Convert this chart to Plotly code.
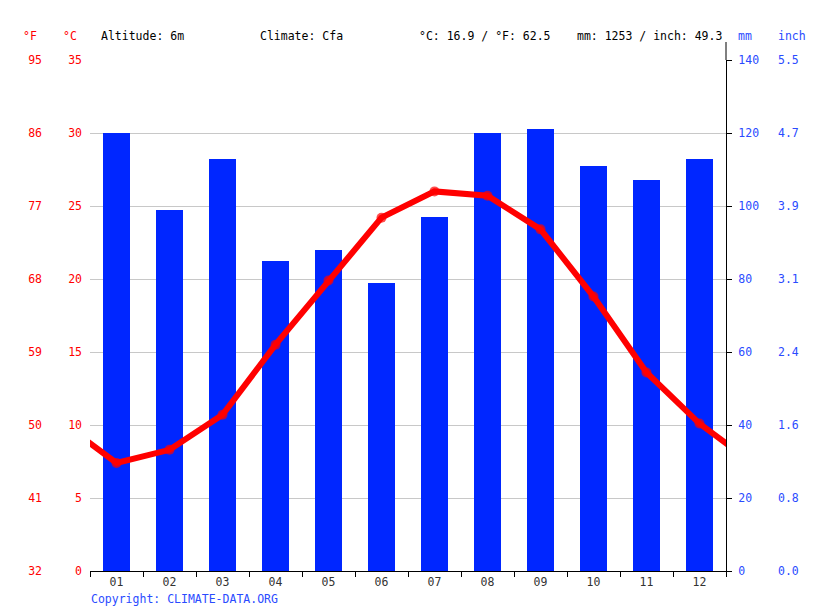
import plotly.graph_objects as go

months = ["01", "02", "03", "04", "05", "06", "07", "08", "09", "10", "11", "12"]
precip_mm = [120, 99, 113, 85, 88, 79, 97, 120, 121, 111, 107, 113]
temp_c = [7.4, 8.3, 10.7, 15.5, 19.9, 24.2, 26.0, 25.7, 23.4, 18.8, 13.6, 10.1]

c_ticks = [0, 5, 10, 15, 20, 25, 30, 35]
f_labels = ["32", "41", "50", "59", "68", "77", "86", "95"]
mm_ticks = [0, 20, 40, 60, 80, 100, 120, 140]
inch_labels = ["0.0", "0.8", "1.6", "2.4", "3.1", "3.9", "4.7", "5.5"]

W, H = 815, 611
L, R, T, B = 90, 726, 60, 571

RED = "#ff0000"
BLUE = "#0026ff"
TXTBLUE = "#2a4bff"
FONT = "DejaVu Sans Mono"
FS = 11.5

def px(x):
    return x / W

def py(y):
    return (B - y) / (B - T)

# wrap the temperature series so the line runs to the plot edges
line_x = list(range(0, 14))
line_y = [temp_c[-1]] + temp_c + [temp_c[0]]
marker_sizes = [0] + [10] * 12 + [0]

fig = go.Figure()
fig.add_trace(go.Bar(
    x=months, y=precip_mm, xaxis="x", yaxis="y",
    marker=dict(color=BLUE, line=dict(width=0)), width=0.51,
    hoverinfo="skip", showlegend=False,
))
fig.add_trace(go.Scatter(
    x=line_x, y=line_y, xaxis="x2", yaxis="y2",
    mode="lines+markers",
    line=dict(color=RED, width=6),
    marker=dict(color=RED, size=marker_sizes, line=dict(width=0)),
    cliponaxis=True, showlegend=False, hoverinfo="skip",
))
# dummy traces so the °F and inch axes are drawn
fig.add_trace(go.Scatter(x=[None], y=[None], xaxis="x", yaxis="y3", showlegend=False))
fig.add_trace(go.Scatter(x=[None], y=[None], xaxis="x", yaxis="y4", showlegend=False))

fig.update_layout(
    width=W, height=H,
    margin=dict(l=0, r=0, t=T, b=H - B, pad=0),
    plot_bgcolor="white", paper_bgcolor="white",
    font=dict(family=FONT, size=FS, color="#000"),
    xaxis=dict(
        type="category", domain=[px(L), px(R)], anchor="y",
        range=[-0.5, 11.5],
        tickson="boundaries", ticks="outside", ticklen=5, tickcolor="#000",
        showline=True, linecolor="#000", linewidth=1,
        showgrid=False, zeroline=False,
        tickfont=dict(family=FONT, size=FS, color="#333"),
        automargin=False,
    ),
    xaxis2=dict(
        overlaying="x", domain=[px(L), px(R)], range=[0.5, 12.5],
        visible=False, anchor="y2",
    ),
    # precipitation (mm) - main axis, right side
    yaxis=dict(
        range=[0, 140], tickvals=mm_ticks,
        side="right", anchor="x",
        showgrid=True, gridcolor="#c8c8c8", gridwidth=1, zeroline=False,
        showline=True, linecolor="#000", linewidth=1,
        ticks="outside", ticklen=5, tickcolor="#000",
        ticklabelstandoff=4,
        tickfont=dict(family=FONT, size=FS, color=TXTBLUE),
        automargin=False,
    ),
    # temperature °C
    yaxis2=dict(
        range=[0, 35], tickvals=c_ticks, overlaying="y",
        side="left", anchor="free", position=px(82),
        showgrid=False, zeroline=False, showline=False, ticks="",
        tickfont=dict(family=FONT, size=FS, color=RED),
        automargin=False,
    ),
    # temperature °F
    yaxis3=dict(
        range=[0, 140], tickvals=mm_ticks, ticktext=f_labels,
        overlaying="y", side="left", anchor="free", position=px(42),
        showgrid=False, zeroline=False, showline=False, ticks="",
        tickfont=dict(family=FONT, size=FS, color=RED),
        automargin=False,
    ),
    # precipitation inch
    yaxis4=dict(
        range=[0, 140], tickvals=mm_ticks, ticktext=inch_labels,
        overlaying="y", side="right", anchor="free", position=px(777),
        showgrid=False, zeroline=False, showline=False, ticks="",
        tickfont=dict(family=FONT, size=FS, color=TXTBLUE),
        automargin=False,
    ),
    bargap=0,
)

# right axis line extends above plot
fig.add_shape(type="line", xref="paper", yref="paper",
              x0=px(R), x1=px(R), y0=py(T), y1=py(42),
              line=dict(color="#000", width=1))

header_y = py(36)
anns = [
    dict(text="°F", x=px(30), xanchor="center", color=RED),
    dict(text="°C", x=px(70), xanchor="center", color=RED),
    dict(text="Altitude: 6m", x=px(99), xanchor="left", color="#000"),
    dict(text="Climate: Cfa", x=px(258), xanchor="left", color="#000"),
    dict(text="°C: 16.9 / °F: 62.5", x=px(417), xanchor="left", color="#000"),
    dict(text="mm: 1253 / inch: 49.3", x=px(575), xanchor="left", color="#000"),
    dict(text="mm", x=px(745), xanchor="center", color=TXTBLUE),
    dict(text="inch", x=px(792), xanchor="center", color=TXTBLUE),
]
for a in anns:
    fig.add_annotation(text=a["text"], x=a["x"], y=header_y, xref="paper", yref="paper",
                       xanchor=a["xanchor"], yanchor="middle", showarrow=False,
                       font=dict(family=FONT, size=FS, color=a["color"]))

fig.add_annotation(text="Copyright: CLIMATE-DATA.ORG", x=px(89), y=py(599),
                   xref="paper", yref="paper", xanchor="left", yanchor="middle",
                   showarrow=False, font=dict(family=FONT, size=FS, color=TXTBLUE))

fig.write_html("out.html", config={"displayModeBar": False},
               post_script="document.body.style.margin='0';")
